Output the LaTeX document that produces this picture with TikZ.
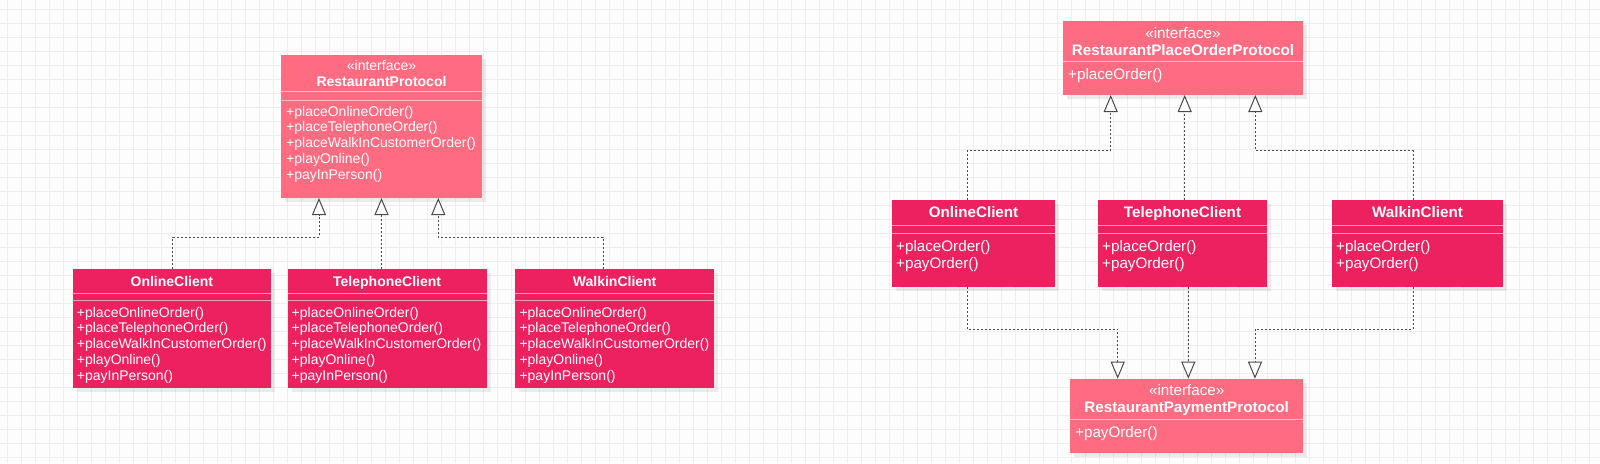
\documentclass[tikz,border=0pt]{standalone}
\usepackage{fontspec}
\setmainfont{Liberation Sans}
\usetikzlibrary{arrows.meta,shadows}

\definecolor{ifacepink}{HTML}{FF6B81}
\definecolor{classred}{HTML}{EE2160}
\definecolor{linegray}{HTML}{4A4A4A}
\definecolor{gridgray}{HTML}{EEEEEE}
\definecolor{paper}{HTML}{FDFDFD}

\begin{document}
\begin{tikzpicture}[x=1pt, y=-1pt,
    umlbox/.style={anchor=north west, inner sep=0pt, outer sep=0pt,
        drop shadow={shadow xshift=4pt, shadow yshift=-4pt, fill=black, opacity=0.07}},
    iface/.style={umlbox, fill=ifacepink},
    klass/.style={umlbox, fill=classred},
    divider/.style={draw=white, draw opacity=0.55, line width=1pt},
    realize/.style={draw=linegray, line width=1pt, dash pattern=on 2pt off 2pt,
        -{Triangle[length=17pt, width=14pt, fill=white]}},
    ltext/.style={text=white, inner sep=0pt, anchor=base, font=\fontsize{14}{16}\selectfont},
    ltitle/.style={ltext, font=\bfseries\fontsize{14}{16}\selectfont},
    lmethod/.style={ltext, anchor=base west},
    rtext/.style={text=white, inner sep=0pt, anchor=base, font=\fontsize{15.2}{17}\selectfont},
    rtitle/.style={rtext, font=\bfseries\fontsize{15.2}{17}\selectfont},
    rmethod/.style={rtext, anchor=base west}
]

% paper and grid
\useasboundingbox (0,0) rectangle (1600,463);
\fill[paper] (0,0) rectangle (1600,463);
\foreach \gx in {7,21,...,1599} \draw[gridgray, line width=0.8pt] (\gx,0) -- (\gx,463);
\foreach \gy in {9,23,...,463} \draw[gridgray, line width=0.8pt] (0,\gy) -- (1600,\gy);

% ---- one protocol for everything
\node[iface, minimum width=201pt, minimum height=143pt] (rp) at (281,55) {};
\node[ltext] (rp-stereo) at ([yshift=-15pt]rp.north) {«interface»};
\node[ltitle] (rp-name) at ([yshift=-31pt]rp.north) {RestaurantProtocol};
\draw[divider] ([yshift=-36.7pt]rp.north west) -- ([yshift=-36.7pt]rp.north east);
\draw[divider] ([yshift=-45pt]rp.north west) -- ([yshift=-45pt]rp.north east);
\foreach \m [count=\i from 0] in {placeOnlineOrder(), placeTelephoneOrder(), placeWalkInCustomerOrder(), playOnline(), payInPerson()}
    \node[lmethod] (rp-m\i) at ([xshift=5pt, yshift={-(61+15.75*\i)*1pt}]rp.north west) {+\m};

\node[klass, minimum width=198.3pt, minimum height=118.7pt] (oc1) at (72.7,269.3) {};
\node[klass, minimum width=199.2pt, minimum height=118.7pt] (tc1) at (287.5,269.3) {};
\node[klass, minimum width=198.7pt, minimum height=118.7pt] (wc1) at (515.3,269.3) {};
\foreach \b/\t in {oc1/OnlineClient, tc1/TelephoneClient, wc1/WalkinClient} {
    \node[ltitle] (\b-name) at ([yshift=-16.7pt]\b.north) {\t};
    \draw[divider] ([yshift=-24pt]\b.north west) -- ([yshift=-24pt]\b.north east);
    \draw[divider] ([yshift=-31.4pt]\b.north west) -- ([yshift=-31.4pt]\b.north east);
    \foreach \m [count=\i from 0] in {placeOnlineOrder(), placeTelephoneOrder(), placeWalkInCustomerOrder(), playOnline(), payInPerson()}
        \node[lmethod] (\b-m\i) at ([xshift=4pt, yshift={-(47.7+15.75*\i)*1pt}]\b.north west) {+\m};
}

\draw[realize] ([xshift=1pt]oc1.north) -- ++(0,-32) -| ([xshift=-62.5pt]rp.south);
\draw[realize] (tc1.north -| rp.south) -- (rp.south);
\draw[realize] ([xshift=-11.6pt]wc1.north) -- ++(0,-32) -| ([xshift=56.8pt]rp.south);

% ---- split protocols
\node[iface, minimum width=240pt, minimum height=74pt] (po) at (1063,21) {};
\node[rtext] (po-stereo) at ([yshift=-17pt]po.north) {«interface»};
\node[rtitle] (po-name) at ([yshift=-34pt]po.north) {RestaurantPlaceOrderProtocol};
\draw[divider] ([yshift=-40.7pt]po.north west) -- ([yshift=-40.7pt]po.north east);
\node[rmethod] (po-m0) at ([xshift=5pt, yshift=-58.5pt]po.north west) {+placeOrder()};

\node[klass, minimum width=163pt, minimum height=87.5pt] (oc2) at (892,199.5) {};
\node[klass, minimum width=169pt, minimum height=87.5pt] (tc2) at (1098,199.5) {};
\node[klass, minimum width=171pt, minimum height=87.5pt] (wc2) at (1332,199.5) {};
\foreach \b/\t in {oc2/OnlineClient, tc2/TelephoneClient, wc2/WalkinClient} {
    \node[rtitle] (\b-name) at ([yshift=-18pt]\b.north) {\t};
    \draw[divider] ([yshift=-26pt]\b.north west) -- ([yshift=-26pt]\b.north east);
    \draw[divider] ([yshift=-33.8pt]\b.north west) -- ([yshift=-33.8pt]\b.north east);
    \node[rmethod] (\b-m0) at ([xshift=4pt, yshift=-52pt]\b.north west) {+placeOrder()};
    \node[rmethod] (\b-m1) at ([xshift=4pt, yshift=-69.3pt]\b.north west) {+payOrder()};
}

\node[iface, minimum width=233.3pt, minimum height=74pt] (pp) at (1070,378.7) {};
\node[rtext] (pp-stereo) at ([yshift=-16.8pt]pp.north) {«interface»};
\node[rtitle] (pp-name) at ([yshift=-33.3pt]pp.north) {RestaurantPaymentProtocol};
\draw[divider] ([yshift=-40.3pt]pp.north west) -- ([yshift=-40.3pt]pp.north east);
\node[rmethod] (pp-m0) at ([xshift=5pt, yshift=-58.3pt]pp.north west) {+payOrder()};

\draw[realize] ([xshift=-6.5pt]oc2.north) -- ++(0,-48.8) -| ([xshift=-72.3pt]po.south);
\draw[realize] ([xshift=2.2pt]tc2.north) -- ([xshift=1.7pt]po.south);
\draw[realize] ([xshift=-4.5pt]wc2.north) -- ++(0,-48.8) -| ([xshift=72.3pt]po.south);

\draw[realize] ([xshift=-6.5pt]oc2.south) -- ++(0,42.3) -| ([xshift=-68.95pt]pp.north);
\draw[realize] ([xshift=5.8pt]tc2.south) -- ([xshift=1.65pt]pp.north);
\draw[realize] ([xshift=-4.5pt]wc2.south) -- ++(0,42.3) -| ([xshift=68.35pt]pp.north);

\end{tikzpicture}
\end{document}
